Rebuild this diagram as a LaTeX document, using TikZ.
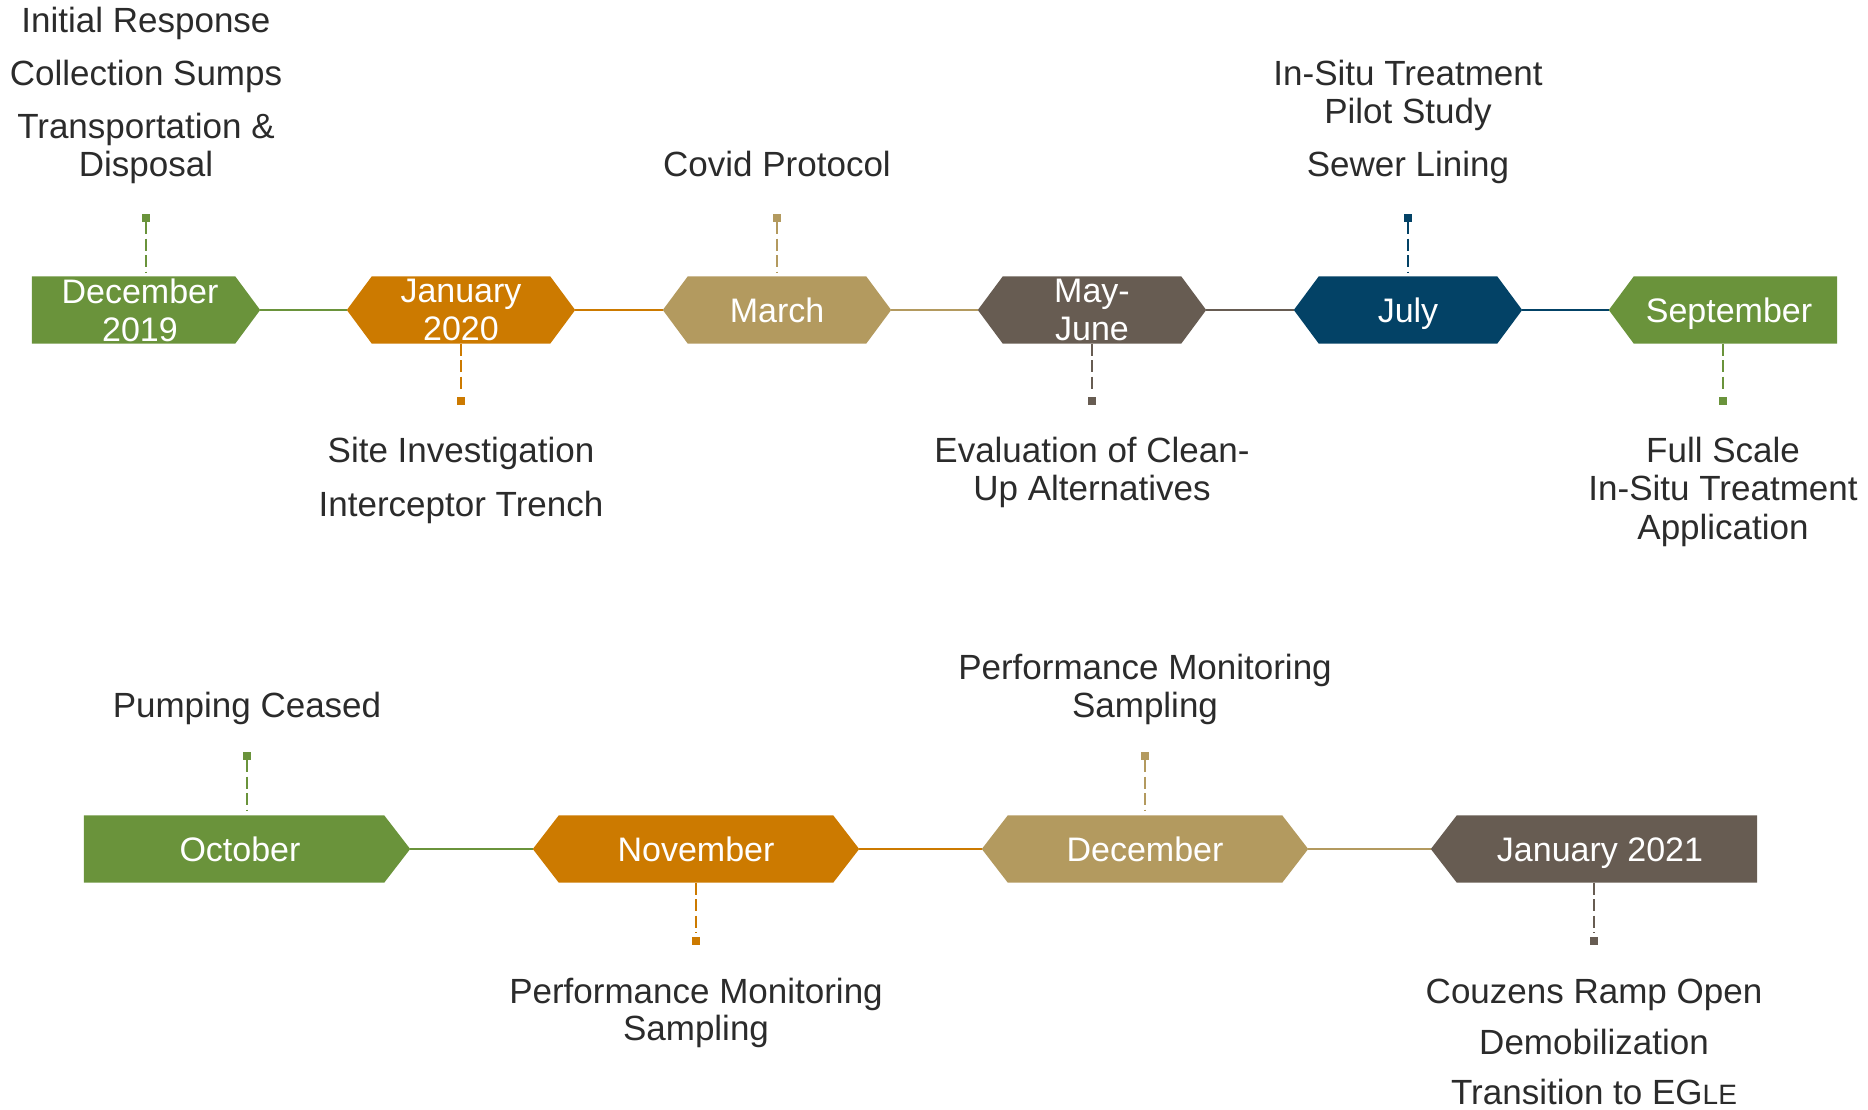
\documentclass[tikz,border=0pt]{standalone}
\usepackage{fontspec}
\setmainfont{Liberation Sans}
\usetikzlibrary{calc,backgrounds}

\definecolor{tlgreen}{HTML}{6A933B}
\definecolor{tlorange}{HTML}{CC7A00}
\definecolor{tltan}{HTML}{B39A5F}
\definecolor{tlslate}{HTML}{675C52}
\definecolor{tlnavy}{HTML}{034266}
\definecolor{ink}{HTML}{2B2B2B}

\newcommand\tlfont{\fontsize{34}{38}\selectfont}
\newcommand\evfont{\fontsize{35}{38}\selectfont}
% nudge a line of month text towards the flat end of its marker
\newcommand\nudge[1]{\hspace*{#1pt}}

% fill the outline of a month marker: flat sides when the tip depth is 0
\newcommand\tlshape[4]{%
  \fill[#2] ($(#1.north west)+(#3,0)$) -- ($(#1.north east)-(#4,0)$) -- (#1.east)
    -- ($(#1.south east)-(#4,0)$) -- ($(#1.south west)+(#3,0)$) -- (#1.west) -- cycle;}

\tikzset{
  month/.style={minimum height=67, inner sep=0, text=white, font=\tlfont, align=center},
  oneline/.style={text height=25, text depth=0},
  wideA/.style={minimum width=228},
  wideB/.style={minimum width=326},
  evtext/.style={font=\evfont, text=ink, anchor=base, inner sep=0},
  link/.style={line width=2.5},
  stem/.style={line width=2, dash pattern=on 12 off 4.5},
  dot/.style={minimum size=8, inner sep=0, fill=#1},
}

\begin{document}
\begin{tikzpicture}[x=1pt,y=-1pt]
\useasboundingbox (0,0) rectangle (1868,1110);

% ---- first row of months
\node[month,wideA] (m1) at (146,310) {\nudge{-12}December\\\nudge{-12}2019};
\node[month,wideA] (m2) at (461,310) {January\\2020};
\node[month,wideA,oneline] (m3) at (777,310) {March};
\node[month,wideA] (m4) at (1092,310) {May-\\June};
\node[month,wideA,oneline] (m5) at (1408,310) {July};
\node[month,wideA,oneline] (m6) at (1723,310) {\nudge{12}September};

% ---- second row of months
\node[month,wideB,oneline] (m7) at (247,849) {\nudge{-14}October};
\node[month,wideB,oneline] (m8) at (696,849) {November};
\node[month,wideB,oneline] (m9) at (1145,849) {December};
\node[month,wideB,oneline] (m10) at (1594,849) {\nudge{12}January 2021};

\begin{scope}[on background layer]
  \tlshape{m1}{tlgreen}{0}{25}
  \tlshape{m2}{tlorange}{25}{25}
  \tlshape{m3}{tltan}{25}{25}
  \tlshape{m4}{tlslate}{25}{25}
  \tlshape{m5}{tlnavy}{25}{25}
  \tlshape{m6}{tlgreen}{25}{0}
  \tlshape{m7}{tlgreen}{0}{26}
  \tlshape{m8}{tlorange}{26}{26}
  \tlshape{m9}{tltan}{26}{26}
  \tlshape{m10}{tlslate}{26}{0}
\end{scope}

% ---- links between consecutive months
\draw[link,tlgreen]  (m1.east) -- (m2.west);
\draw[link,tlorange] (m2.east) -- (m3.west);
\draw[link,tltan]    (m3.east) -- (m4.west);
\draw[link,tlslate]  (m4.east) -- (m5.west);
\draw[link,tlnavy]   (m5.east) -- (m6.west);
\draw[link,tlgreen]  (m7.east) -- (m8.west);
\draw[link,tlorange] (m8.east) -- (m9.west);
\draw[link,tltan]    (m9.east) -- (m10.west);

% ---- event stems with their end squares
\node[dot=tlgreen]  (d1) at (146,218) {};
\node[dot=tlorange] (d2) at (461,401) {};
\node[dot=tltan]    (d3) at (777,218) {};
\node[dot=tlslate]  (d4) at (1092,401) {};
\node[dot=tlnavy]   (d5) at (1408,218) {};
\node[dot=tlgreen]  (d6) at (1723,401) {};
\node[dot=tlgreen]  (d7) at (247,756) {};
\node[dot=tlorange] (d8) at (696,941) {};
\node[dot=tltan]    (d9) at (1145,756) {};
\node[dot=tlslate]  (d10) at (1594,941) {};

\draw[stem,tlgreen,shorten >=4]  (d1.south) -- (m1.north);
\draw[stem,tlorange,shorten >=4] (m2.south) -- (d2.north);
\draw[stem,tltan,shorten >=4]    (d3.south) -- (m3.north);
\draw[stem,tlslate,shorten >=4]  (m4.south) -- (d4.north);
\draw[stem,tlnavy,shorten >=4]   (d5.south) -- (m5.north);
\draw[stem,tlgreen,shorten >=4]  (m6.south) -- (d6.north);
\draw[stem,tlgreen,shorten >=4]  (d7.south) -- (m7.north);
\draw[stem,tlorange,shorten >=4] (m8.south) -- (d8.north);
\draw[stem,tltan,shorten >=4]    (d9.south) -- (m9.north);
\draw[stem,tlslate,shorten >=4]  (m10.south) -- (d10.north);

% ---- event texts
\node[evtext] (e1a) at (146,33)  {Initial Response};
\node[evtext] (e1b) at (146,86)  {Collection Sumps};
\node[evtext] (e1c) at (146,139) {Transportation \&};
\node[evtext] (e1d) at (146,177) {Disposal};

\node[evtext] (e2a) at (461,462) {Site Investigation};
\node[evtext] (e2b) at (461,516) {Interceptor Trench};

\node[evtext] (e3a) at (777,177) {Covid Protocol};

\node[evtext] (e4a) at (1092,462) {Evaluation of Clean-};
\node[evtext] (e4b) at (1092,500) {Up Alternatives};

\node[evtext] (e5a) at (1408,86)  {In-Situ Treatment};
\node[evtext] (e5b) at (1408,124) {Pilot Study};
\node[evtext] (e5c) at (1408,177) {Sewer Lining};

\node[evtext] (e6a) at (1723,462) {Full Scale};
\node[evtext] (e6b) at (1723,500) {In-Situ Treatment};
\node[evtext] (e6c) at (1723,539) {Application};

\node[evtext] (e7a) at (247,717) {Pumping Ceased};

\node[evtext] (e8a) at (696,1003) {Performance Monitoring};
\node[evtext] (e8b) at (696,1040) {Sampling};

\node[evtext] (e9a) at (1145,679) {Performance Monitoring};
\node[evtext] (e9b) at (1145,717) {Sampling};

\node[evtext] (e10a) at (1594,1003) {Couzens Ramp Open};
\node[evtext] (e10b) at (1594,1054) {Demobilization};
\node[evtext] (e10c) at (1594,1104) {Transition to EG{\fontsize{28}{30}\selectfont LE}};
\end{tikzpicture}
\end{document}
